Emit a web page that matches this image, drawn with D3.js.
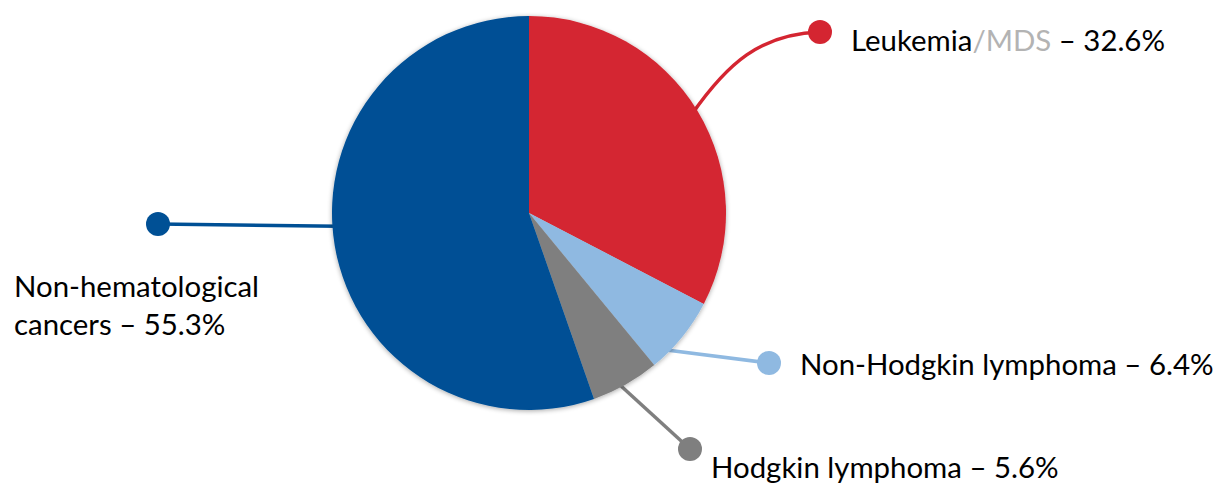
<!DOCTYPE html>
<html>
<head>
<meta charset="utf-8">
<script src="https://cdn.jsdelivr.net/npm/d3@7"></script>
<style>
  body { margin: 0; background: #fff; }
  svg { display: block; }
  text { font-family: Lato, "Open Sans", sans-serif; fill: #000; }
</style>
</head>
<body>
<div id="chart"></div>
<script>
// data
var categories = ["Leukemia/MDS", "Non-Hodgkin lymphoma", "Hodgkin lymphoma", "Non-hematological cancers"];
var values = [32.6, 6.4, 5.6, 55.3];
var colors = ["#d42531", "#8fb9e1", "#7f7f7f", "#005095"];

var width = 1214, height = 484;
var cx = 529, cy = 213, radius = 197;

// where each label sits, and where its leader meets the pie (degrees from top)
var dots = [[820, 32], [769, 363], [690, 449], [158, 224]];
var anchorDeg = [58.7, 135.6, 152.5, 266];

var svg = d3.select("#chart").append("svg")
  .attr("width", width)
  .attr("height", height);

var defs = svg.append("defs");
var shadow = defs.append("filter").attr("id", "shadow")
  .attr("x", "-10%").attr("y", "-10%").attr("width", "120%").attr("height", "120%");
shadow.append("feGaussianBlur").attr("in", "SourceAlpha").attr("stdDeviation", 2.5);
shadow.append("feOffset").attr("dx", 0).attr("dy", 1).attr("result", "b");
shadow.append("feComponentTransfer").append("feFuncA").attr("type", "linear").attr("slope", 0.35);
var merge = shadow.append("feMerge");
merge.append("feMergeNode");
merge.append("feMergeNode").attr("in", "SourceGraphic");

var pie = d3.pie().sort(null).value(function(d){ return d; });
var arcs = pie(values);
var arc = d3.arc().innerRadius(0).outerRadius(radius);

function edgePoint(deg, r) {
  var a = deg * Math.PI / 180;
  return [cx + r * Math.sin(a), cy - r * Math.cos(a)];
}

//leader lines, under the pie
var leaders = svg.append("g");
arcs.forEach(function(d, i){
  var p = edgePoint(anchorDeg[i], radius - 6);
  var q = dots[i];
  var path;
  if (i === 0) {
    path = "M" + p[0] + "," + p[1] + " C" + (p[0] + 35) + "," + (p[1] - 50) + " " + (q[0] - 60) + "," + (q[1] + 2) + " " + q[0] + "," + q[1];
  } else {
    path = "M" + p[0] + "," + p[1] + " L" + q[0] + "," + q[1];
  }
  leaders.append("path")
    .attr("d", path)
    .attr("fill", "none")
    .attr("stroke", colors[i])
    .attr("stroke-width", 3.5);
});

//the pie
svg.append("g")
  .attr("transform", "translate(" + cx + "," + cy + ")")
  .attr("filter", "url(#shadow)")
  .selectAll("path")
  .data(arcs)
  .enter().append("path")
  .attr("d", arc)
  .attr("fill", function(d, i){ return colors[i]; });

//dots
svg.append("g").selectAll("circle")
  .data(dots)
  .enter().append("circle")
  .attr("cx", function(d){ return d[0]; })
  .attr("cy", function(d){ return d[1]; })
  .attr("r", 12)
  .attr("fill", function(d, i){ return colors[i]; });

//labels
var fs = 29.4;
var t0 = svg.append("text").attr("x", 851).attr("y", 51).style("font-size", fs + "px");
t0.append("tspan").text("Leukemia");
t0.append("tspan").style("fill", "#b3b3b3").text("/MDS");
t0.append("tspan").text(" \u2013 " + values[0] + "%");

svg.append("text").attr("x", 800).attr("y", 375).style("font-size", fs + "px")
  .text(categories[1] + " \u2013 " + values[1] + "%");

svg.append("text").attr("x", 711).attr("y", 478).style("font-size", fs + "px")
  .text(categories[2] + " \u2013 " + values[2] + "%");

var t3 = svg.append("text").attr("x", 14).attr("y", 297).style("font-size", fs + "px");
t3.append("tspan").attr("x", 14).text("Non-hematological");
t3.append("tspan").attr("x", 14).attr("dy", 38).text("cancers \u2013 " + values[3] + "%");
</script>
</body>
</html>
